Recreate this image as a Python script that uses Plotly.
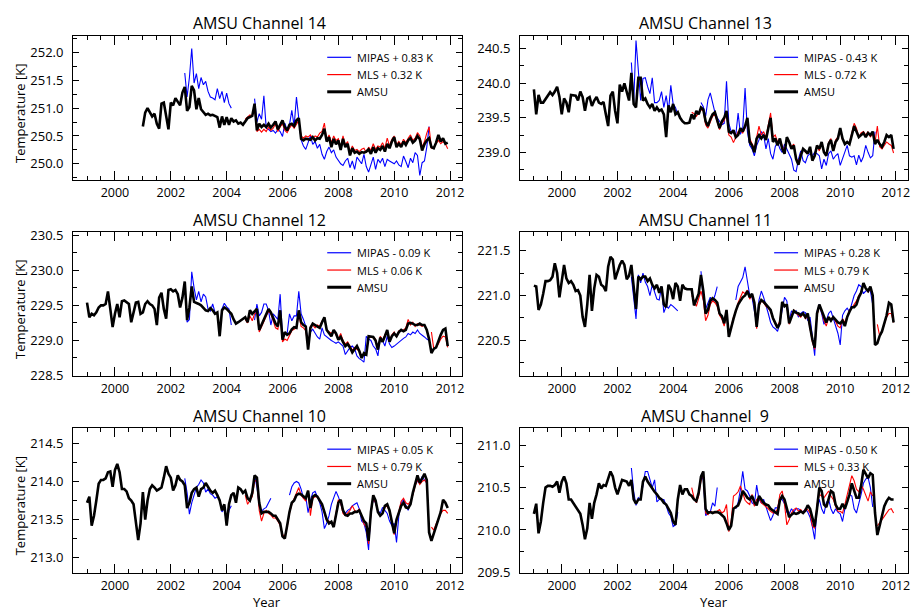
import plotly.graph_objects as go

FIG_W, FIG_H = 912, 615
FONT = "Open Sans"

# ------------------------------------------------------------------ data
x_tick_years = [2000, 2002, 2004, 2006, 2008, 2010, 2012]
x_tick_labels = ["2000", "2002", "2004", "2006", "2008", "2010", "2012"]

titles = ["AMSU Channel 14", "AMSU Channel 13", "AMSU Channel 12",
          "AMSU Channel 11", "AMSU Channel 10", "AMSU Channel  9"]
mipas_labels = ["MIPAS + 0.83 K", "MIPAS - 0.43 K", "MIPAS - 0.09 K",
                "MIPAS + 0.28 K", "MIPAS + 0.05 K", "MIPAS - 0.50 K"]
mls_labels = ["MLS + 0.32 K", "MLS - 0.72 K", "MLS + 0.06 K",
              "MLS + 0.79 K", "MLS + 0.79 K", "MLS + 0.33 K"]
amsu_label = "AMSU"
y_axis_title = "Temperature [K]"
x_axis_title = "Year"

# start (year, month) of each series
amsu_start_ch14 = (2001, 1)
amsu_start = (1999, 1)
mipas_seg1_start = (2002, 7)
mipas_seg2_start = (2005, 1)
mls_start = (2004, 9)

# ---------------- Channel 14
ch14_amsu = [
    250.67, 250.92, 251.00, 250.93, 250.85, 250.90, 250.72, 250.63, 251.08, 251.10, 250.85, 250.62,
    251.10, 251.05, 251.18, 251.12, 251.05, 251.28, 251.38, 250.95, 251.02, 251.40, 251.32, 250.98,
    251.18, 250.98, 250.92, 250.88, 250.90, 250.87, 250.88, 250.86, 250.84, 250.65, 250.85, 250.70,
    250.84, 250.70, 250.82, 250.76, 250.78, 250.72, 250.74, 250.70, 250.76, 250.82, 250.84, 250.86,
    251.08, 250.60, 250.72, 250.66, 250.70, 250.66, 250.72, 250.65, 250.70, 250.76, 250.62, 250.70,
    250.78, 250.66, 250.60, 250.70, 250.72, 250.68, 250.78, 250.82, 250.45, 250.42, 250.45, 250.44,
    250.43, 250.48, 250.42, 250.46, 250.45, 250.52, 250.63, 250.40, 250.48, 250.30, 250.45, 250.35,
    250.42, 250.25, 250.45, 250.30, 250.36, 250.15, 250.28, 250.20, 250.22, 250.18, 250.21, 250.20,
    250.22, 250.26, 250.18, 250.30, 250.20, 250.28, 250.25, 250.32, 250.22, 250.36, 250.28, 250.40,
    250.48, 250.30, 250.36, 250.30, 250.40, 250.34, 250.42, 250.46, 250.38, 250.42, 250.50, 250.44,
    250.24, 250.35, 250.42, 250.46, 250.30, 250.28, 250.38, 250.52, 250.40, 250.46, 250.36, 250.38]
ch14_mipas_1 = [
    251.63, 251.20, 251.55, 252.07, 251.45, 251.62,
    251.35, 251.55, 251.42, 251.48, 251.30, 251.20, 251.18, 251.15, 251.35, 251.17, 251.30, 251.10,
    251.27, 251.08, 251.00]
ch14_mipas_2 = [
    251.17, 250.75, 250.90, 250.80, 251.22, 250.64, 250.62, 250.58, 250.60, 250.55, 250.62, 250.58,
    250.49, 250.73, 250.60, 250.70, 250.96, 250.68, 251.20, 250.80, 250.43, 250.32, 250.26, 250.38,
    250.50, 250.35, 250.40, 250.28, 250.35, 250.17, 250.08, 250.22, 250.30, 250.20, 250.25, 250.12,
    250.05, 250.00, 249.97, 250.05, 250.10, 249.93, 250.05, 249.90, 250.12, 250.05, 250.00, 250.17,
    249.95, 249.85, 250.00, 250.12, 249.90, 250.08, 250.02, 250.10, 249.95, 250.08, 250.05, 250.02,
    250.00, 250.05, 249.98, 249.95, 250.14, 250.04, 249.93, 250.10, 250.02, 250.20, 250.15, 249.79,
    250.02, 250.05, 250.30, 250.67]
ch14_mls = [
    250.80, 250.84, 250.88, 250.86,
    251.02, 250.58, 250.62, 250.57, 250.62, 250.58, 250.66, 250.60, 250.64, 250.72, 250.58, 250.66,
    250.72, 250.60, 250.56, 250.64, 250.70, 250.64, 250.72, 250.78, 250.50, 250.46, 250.50, 250.48,
    250.52, 250.45, 250.50, 250.48, 250.55, 250.58, 250.73, 250.42, 250.52, 250.38, 250.50, 250.42,
    250.45, 250.30, 250.50, 250.34, 250.40, 250.20, 250.32, 250.24, 250.26, 250.22, 250.26, 250.28,
    250.20, 250.30, 250.24, 250.36, 250.26, 250.32, 250.30, 250.38, 250.28, 250.46, 250.32, 250.44,
    250.50, 250.34, 250.40, 250.34, 250.44, 250.38, 250.46, 250.52, 250.42, 250.46, 250.56, 250.50,
    250.30, 250.40, 250.55, 250.66, 250.28, 250.30, 250.36, 250.42, 250.36, 250.40, 250.36, 250.27]

# ---------------- Channel 13
ch13_amsu = [
    239.91, 239.55, 239.83, 239.72, 239.72, 239.77, 239.83, 239.87, 239.83, 239.88, 239.95, 239.80,
    239.55, 239.78, 239.72, 239.58, 239.83, 239.82, 239.82, 239.75, 239.88, 239.80, 239.60, 239.78,
    239.80, 239.67, 239.75, 239.80, 239.72, 239.70, 239.73, 239.55, 239.38, 239.82, 239.88, 239.60,
    239.42, 239.98, 239.88, 240.00, 239.88, 239.75, 240.15, 239.70, 239.65, 240.08, 240.08, 239.75,
    239.78, 239.70, 239.65, 239.70, 239.60, 239.65, 239.60, 239.62, 239.55, 239.22, 239.68, 239.58,
    239.70, 239.55, 239.58, 239.50, 239.45, 239.42, 239.42, 239.43, 239.55, 239.48, 239.60, 239.55,
    239.65, 239.62, 239.45, 239.38, 239.48, 239.55, 239.58, 239.48, 239.35, 239.45, 239.50, 239.60,
    239.30, 239.28, 239.32, 239.22, 239.25, 239.35, 239.30, 239.38, 239.50, 239.15, 239.10, 239.00,
    239.20, 239.25, 239.20, 239.25, 239.18, 239.35, 239.50, 239.15, 239.20, 239.10, 239.20, 239.05,
    238.98, 239.22, 239.15, 239.05, 239.10, 238.90, 238.82, 238.95, 239.05, 239.02, 238.98, 239.08,
    238.88, 238.95, 239.10, 239.05, 239.15, 239.00, 238.95, 239.12, 239.18, 239.02, 239.15, 239.20,
    239.35, 239.20, 239.12, 239.15, 239.12, 239.25, 239.38, 239.30, 239.22, 239.25, 239.28, 239.22,
    239.28, 239.25, 239.30, 239.12, 239.18, 239.12, 239.08, 239.15, 239.25, 239.22, 239.25, 239.05]
ch13_mipas_1 = [
    240.30, 239.72, 240.62, 240.20, 239.75, 240.07,
    240.08, 239.95, 239.85, 240.08, 239.72, 239.72, 239.75, 239.88, 239.65, 239.82, 239.60, 239.97,
    239.70, 239.65, 239.55]
ch13_mipas_2 = [
    239.72, 239.66, 239.52, 239.76, 239.86, 239.70, 239.58, 239.50, 239.45, 239.40, 239.42, 240.03,
    239.42, 239.30, 239.28, 239.25, 239.57, 239.26, 239.35, 239.93, 239.30, 239.10, 239.05, 238.95,
    239.10, 239.18, 239.30, 239.25, 239.05, 239.20, 238.98, 238.90, 239.08, 239.15, 239.05, 239.00,
    239.12, 239.05, 238.98, 238.90, 238.74, 238.72, 238.90, 239.02, 238.88, 238.85, 238.95, 238.98,
    238.95, 239.00, 238.98, 238.95, 238.76, 238.90, 238.81, 238.98, 239.02, 238.90, 238.95, 238.98,
    238.81, 238.90, 238.98, 239.10, 238.95, 238.93, 238.95, 238.82, 238.96, 238.86, 238.94, 239.10,
    239.00, 238.92, 238.95, 239.30]
ch13_mls = [
    239.58, 239.56, 239.52, 239.58,
    239.62, 239.60, 239.40, 239.35, 239.45, 239.52, 239.55, 239.45, 239.33, 239.42, 239.46, 239.58,
    239.25, 239.22, 239.14, 239.22, 239.30, 239.32, 239.28, 239.35, 239.45, 239.20, 239.12, 239.05,
    239.22, 239.38, 239.25, 239.30, 239.22, 239.40, 239.57, 239.22, 239.25, 239.15, 239.18, 239.10,
    239.00, 239.20, 239.15, 239.08, 239.12, 238.92, 238.85, 238.98, 239.05, 239.00, 238.98, 239.05,
    238.88, 238.96, 239.10, 239.02, 239.14, 239.00, 238.96, 239.14, 239.20, 239.02, 239.18, 239.22,
    239.32, 239.18, 239.14, 239.15, 239.14, 239.28, 239.42, 239.35, 239.22, 239.28, 239.30, 239.25,
    239.30, 239.22, 239.28, 239.14, 239.38, 239.08, 239.05, 239.10, 239.15, 239.12, 239.10, 238.99]

# ---------------- Channel 12
ch12_amsu = [
    229.54, 229.33, 229.38, 229.36, 229.40, 229.47, 229.50, 229.50, 229.52, 229.70, 229.45, 229.19,
    229.38, 229.52, 229.33, 229.56, 229.57, 229.55, 229.52, 229.26, 229.38, 229.54, 229.55, 229.38,
    229.40, 229.52, 229.56, 229.52, 229.50, 229.45, 229.22, 229.61, 229.68, 229.45, 229.31, 229.72,
    229.73, 229.70, 229.72, 229.66, 229.47, 229.61, 229.84, 229.29, 229.47, 229.77, 229.55, 229.54,
    229.52, 229.50, 229.47, 229.43, 229.42, 229.46, 229.43, 229.38, 229.40, 229.06, 229.43, 229.47,
    229.45, 229.42, 229.38, 229.30, 229.24, 229.26, 229.28, 229.30, 229.33, 229.26, 229.43, 229.38,
    229.42, 229.45, 229.15, 229.22, 229.30, 229.38, 229.45, 229.40, 229.32, 229.24, 229.20, 229.43,
    229.01, 229.12, 229.08, 229.10, 229.16, 229.19, 229.18, 229.43, 229.26, 229.22, 229.20, 228.87,
    229.18, 229.24, 229.22, 229.20, 229.18, 229.26, 229.33, 229.15, 229.10, 229.06, 229.15, 229.10,
    229.01, 229.05, 228.98, 228.92, 228.95, 228.90, 228.83, 228.88, 228.92, 228.85, 228.75, 228.82,
    228.80, 229.06, 229.06, 229.05, 229.00, 228.87, 229.04, 228.98, 229.06, 229.15, 228.98, 229.06,
    229.10, 229.06, 229.12, 229.15, 229.13, 229.15, 229.24, 229.25, 229.24, 229.22, 229.22, 229.24,
    229.22, 229.22, 229.15, 229.02, 228.82, 228.88, 228.90, 229.00, 229.08, 229.15, 229.17, 228.92]
ch12_mipas_1 = [
    229.80, 229.26, 229.30, 229.98, 229.75, 229.58,
    229.70, 229.55, 229.66, 229.62, 229.45, 229.42, 229.52, 229.40, 229.38, 229.13, 229.45, 229.53,
    229.48, 229.45, 229.22]
ch12_mipas_2 = [
    229.29, 229.52, 229.35, 229.40, 229.52, 229.52, 229.43, 229.22, 229.38, 229.34, 229.30, 229.66,
    229.05, 229.08, 229.10, 229.38, 229.28, 229.35, 229.35, 229.70, 229.38, 229.30, 229.20, 228.94,
    229.12, 229.16, 229.10, 229.05, 229.02, 229.18, 229.08, 229.05, 229.02, 229.00, 228.98, 228.96,
    228.98, 228.95, 228.92, 228.80, 228.85, 228.90, 228.92, 228.88, 228.78, 228.74, 228.72, 228.69,
    229.06, 229.02, 229.00, 228.92, 228.88, 228.78, 229.04, 229.00, 228.92, 229.06, 228.95, 228.90,
    228.92, 228.95, 228.97, 229.00, 229.03, 229.05, 229.10, 229.08, 229.12, 229.10, 229.15, 229.10,
    229.08, 229.05, 229.02, 229.00]
ch12_mls = [
    229.30, 229.25, 229.35, 229.28,
    229.38, 229.40, 229.12, 229.20, 229.28, 229.36, 229.42, 229.38, 229.28, 229.18, 229.16, 229.38,
    228.98, 229.02, 229.00, 229.08, 229.14, 229.16, 229.18, 229.38, 229.20, 229.18, 229.14, 228.90,
    229.20, 229.22, 229.18, 229.22, 229.20, 229.28, 229.30, 229.15, 229.12, 229.10, 229.14, 229.08,
    229.02, 229.10, 229.00, 228.95, 228.98, 228.92, 228.86, 228.90, 228.88, 228.85, 228.78, 228.80,
    228.82, 229.05, 229.05, 229.04, 229.02, 228.88, 229.06, 229.00, 229.08, 229.14, 229.00, 229.08,
    229.12, 229.05, 229.14, 229.14, 229.15, 229.18, 229.30, 229.22, 229.26, 229.20, 229.24, 229.22,
    229.20, 229.22, 229.15, None, 229.12, 228.88, 228.90, 228.95, 229.02, 229.06, 229.05, 228.90]

# ---------------- Channel 11
ch11_amsu = [
    221.11, 221.10, 220.84, 220.90, 221.02, 221.16, 221.16, 221.17, 221.21, 221.36, 221.25, 220.98,
    221.16, 221.34, 221.19, 221.14, 221.16, 221.12, 221.05, 221.06, 221.00, 220.76, 220.65, 220.90,
    221.23, 220.83, 221.08, 221.23, 221.21, 221.12, 221.10, 221.05, 221.32, 221.43, 221.40, 221.18,
    221.26, 221.34, 221.39, 221.34, 221.18, 221.22, 221.34, 221.12, 220.85, 221.21, 221.18, 221.21,
    221.21, 221.16, 221.19, 221.12, 221.08, 221.12, 221.03, 221.10, 220.90, 220.87, 221.12, 221.07,
    220.96, 221.14, 221.10, 220.94, 221.12, 221.08, 221.07, 221.07, 221.07, 220.89, 220.95, 221.02,
    221.23, 221.05, 220.80, 220.84, 220.94, 220.97, 220.95, 220.92, 220.80, 220.77, 220.69, 220.84,
    220.54, 220.65, 220.74, 220.83, 220.90, 220.94, 220.98, 221.00, 221.05, 220.98, 221.02, 220.92,
    220.65, 220.90, 220.95, 220.93, 220.90, 220.87, 220.84, 220.75, 220.69, 220.64, 220.69, 220.93,
    220.88, 220.90, 220.69, 220.76, 220.83, 220.81, 220.80, 220.78, 220.80, 220.76, 220.80, 220.65,
    220.51, 220.42, 220.80, 220.90, 220.84, 220.76, 220.70, 220.76, 220.72, 220.76, 220.73, 220.70,
    220.69, 220.72, 220.66, 220.76, 220.82, 220.87, 220.87, 220.90, 220.98, 221.03, 221.14, 221.08,
    221.05, 221.10, 221.00, 220.45, 220.47, 220.55, 220.60, 220.68, 220.78, 220.92, 220.90, 220.70]
ch11_mipas_1 = [
    221.21, 220.95, 220.74, 221.23, 221.14, 221.25,
    221.15, 221.10, 221.00, 221.12, 221.05, 220.96, 220.95, 221.10, 220.81, 220.88, 220.86, 220.90,
    220.88, 220.85, 220.83]
ch11_mipas_2 = [
    221.27, 220.95, 220.85, 220.92, 220.98, 220.93, 221.00, 221.10, None, None, None, None,
    None, None, None, 220.95, 221.10, 221.15, 221.20, 221.32, 221.15, 221.00, 220.98, 220.85,
    220.68, 220.95, 221.05, 220.98, 220.90, 220.80, 220.70, 220.65, 220.63, 220.60, 220.70, 220.85,
    220.98, 220.94, 220.72, 220.83, 220.80, 220.83, 220.76, 220.80, 220.82, 220.81, 220.72, 220.76,
    220.52, 220.33, 220.82, 220.90, 220.80, 220.68, 220.72, 220.80, 220.83, 220.75, 220.68, 220.58,
    220.45, 220.78, 220.83, 220.86, 220.82, 220.92, 221.00, 221.05, 221.12, 221.10, 221.02, 221.05,
    221.06, 221.05, 220.90]
ch11_mls = [
    221.00, 220.95, 220.88, 220.98,
    221.05, 220.95, 220.72, 220.78, 220.90, 220.94, 220.92, 220.88, 220.78, 220.74, 220.66, 220.80,
    220.55, 220.65, 220.76, 220.82, 220.92, 220.98, 221.04, 221.02, 221.06, 220.96, 221.00, 220.90,
    220.63, 220.88, 220.94, 220.92, 220.88, 220.86, 220.82, 220.74, 220.68, 220.66, 220.72, 220.90,
    220.90, 220.88, 220.68, 220.78, 220.84, 220.80, 220.78, 220.76, 220.80, 220.74, 220.78, 220.62,
    220.48, 220.40, 220.78, 220.88, 220.82, 220.72, 220.66, 220.76, 220.74, 220.76, 220.70, 220.66,
    220.64, 220.74, 220.70, 220.78, 220.84, 220.86, 220.90, 220.94, 221.00, 221.04, 221.12, 221.08,
    221.04, 221.08, 221.00, None, 220.68, 220.55, 220.60, 220.68, 220.76, 220.80, 220.80, 220.70]

# ---------------- Channel 10
ch10_amsu = [
    213.72, 213.80, 213.42, 213.55, 213.75, 213.97, 214.02, 214.02, 214.04, 214.12, 214.13, 213.93,
    214.15, 214.23, 214.12, 213.90, 213.90, 213.87, 213.78, 213.75, 213.70, 213.45, 213.23, 213.45,
    213.86, 213.50, 213.75, 213.90, 213.95, 213.92, 213.88, 213.90, 213.92, 214.05, 214.20, 214.10,
    214.05, 213.88, 213.95, 214.08, 214.02, 214.00, 213.95, 213.65, 213.72, 213.85, 213.90, 213.92,
    213.80, 213.90, 213.92, 213.98, 213.92, 213.88, 213.85, 213.88, 213.82, 213.75, 213.62, 213.70,
    213.42, 213.70, 213.82, 213.85, 213.72, 213.92, 213.90, 213.85, 213.88, 213.78, 213.75, 213.85,
    214.08, 214.05, 213.72, 213.58, 213.60, 213.60, 213.60, 213.58, 213.55, 213.55, 213.50, 213.45,
    213.28, 213.25, 213.42, 213.60, 213.72, 213.75, 213.82, 213.84, 213.83, 213.80, 213.78, 213.88,
    213.65, 213.80, 213.82, 213.80, 213.75, 213.70, 213.60, 213.50, 213.45, 213.47, 213.40, 213.55,
    213.72, 213.76, 213.62, 213.56, 213.55, 213.58, 213.58, 213.60, 213.60, 213.62, 213.55, 213.48,
    213.45, 213.22, 213.60, 213.82, 213.75, 213.60, 213.55, 213.58, 213.68, 213.70, 213.62, 213.48,
    213.32, 213.50, 213.60, 213.68, 213.72, 213.66, 213.65, 213.70, 213.85, 213.95, 214.08, 213.98,
    214.05, 214.10, 214.02, 213.33, 213.22, 213.32, 213.40, 213.50, 213.60, 213.76, 213.72, 213.65]
ch10_mipas_1 = [
    214.04, 213.85, 213.57, 213.72, 213.82, 213.92,
    213.96, 214.02, 213.98, 213.86, 213.90, 213.84, 213.82, 213.78, 213.80, 213.76, 213.60, 213.65,
    213.44, 213.62, 213.68]
ch10_mipas_2 = [
    214.08, 213.93, 213.68, 213.61, 213.64, 213.66, 213.72, 213.78, None, None, None, None,
    None, None, None, 213.82, 213.93, 213.98, 214.00, 213.98, 213.90, 213.78, 213.80, 213.59,
    213.75, 213.85, 213.87, 213.80, 213.72, 213.60, 213.38, 213.45, 213.55, 213.70, 213.78, 213.87,
    213.80, 213.70, 213.62, 213.58, 213.62, 213.64, 213.68, 213.70, 213.72, 213.64, 213.48, 213.45,
    213.33, 213.10, 213.62, 213.76, 213.72, 213.62, 213.58, 213.66, 213.62, 213.58, 213.48, 213.42,
    213.45, 213.20, 213.55, 213.72, 213.76, 213.70, 213.62, 213.72, 213.86, 213.96, 214.00, 214.00,
    214.06, 214.02, 213.98]
ch10_mls = [
    213.82, 213.70, 213.75, 213.80,
    214.00, 214.02, 213.62, 213.48, 213.58, 213.62, 213.58, 213.56, 213.52, 213.52, 213.48, 213.42,
    213.30, 213.28, 213.40, 213.58, 213.70, 213.78, 213.86, 213.92, 213.82, 213.78, 213.74, 213.88,
    213.55, 213.78, 213.80, 213.80, 213.74, 213.68, 213.58, 213.48, 213.48, 213.46, 213.42, 213.58,
    213.76, 213.72, 213.58, 213.55, 213.58, 213.62, 213.68, 213.62, 213.60, 213.64, 213.54, 213.44,
    213.40, 213.18, 213.58, 213.78, 213.72, 213.60, 213.56, 213.58, 213.66, 213.68, 213.60, 213.46,
    213.30, 213.48, 213.62, 213.74, 213.78, 213.72, 213.70, 213.74, 213.82, 213.94, 214.02, 213.96,
    214.00, 214.02, 213.98, None, 213.40, 213.36, 213.44, 213.52, 213.58, 213.62, 213.62, 213.58]

# ---------------- Channel 9
ch9_amsu = [
    210.19, 210.31, 209.96, 210.10, 210.32, 210.50, 210.52, 210.52, 210.51, 210.53, 210.57, 210.44,
    210.57, 210.63, 210.55, 210.36, 210.36, 210.32, 210.28, 210.23, 210.19, 210.06, 209.89, 210.02,
    210.32, 210.13, 210.32, 210.42, 210.55, 210.49, 210.53, 210.52, 210.60, 210.69, 210.63, 210.50,
    210.42, 210.50, 210.59, 210.58, 210.57, 210.52, 210.59, 210.36, 210.31, 210.36, 210.36, 210.57,
    210.63, 210.57, 210.53, 210.48, 210.45, 210.42, 210.38, 210.36, 210.32, 210.30, 210.25, 210.20,
    210.10, 210.06, 210.36, 210.53, 210.42, 210.48, 210.48, 210.42, 210.40, 210.36, 210.34, 210.44,
    210.63, 210.69, 210.25, 210.20, 210.21, 210.20, 210.21, 210.21, 210.20, 210.17, 210.15, 210.08,
    210.00, 210.05, 210.25, 210.27, 210.29, 210.36, 210.46, 210.42, 210.38, 210.36, 210.40, 210.33,
    210.29, 210.40, 210.36, 210.32, 210.30, 210.29, 210.25, 210.23, 210.20, 210.19, 210.35, 210.40,
    210.36, 210.25, 210.15, 210.18, 210.20, 210.19, 210.20, 210.22, 210.20, 210.23, 210.29, 210.25,
    210.13, 210.04, 210.25, 210.50, 210.46, 210.30, 210.27, 210.36, 210.46, 210.44, 210.30, 210.25,
    210.25, 210.31, 210.25, 210.33, 210.42, 210.55, 210.45, 210.38, 210.38, 210.52, 210.71, 210.66,
    210.61, 210.67, 210.65, 210.20, 209.94, 210.05, 210.18, 210.28, 210.34, 210.38, 210.36, 210.36]
ch9_mipas_1 = [
    210.73, 210.45, 210.29, 210.38, 210.36, 210.51,
    210.69, 210.69, 210.59, 210.50, 210.59, 210.33, 210.36, 210.36, 210.36, 210.29, 210.20, 210.16,
    210.04, 210.06, 210.21]
ch9_mipas_2 = [
    210.65, 210.59, 210.17, 210.19, 210.21, 210.32, 210.28, 210.50, None, None, None, None,
    None, None, None, 210.25, 210.32, 210.48, 210.69, 210.48, 210.46, 210.40, 210.32, 210.30,
    210.53, 210.36, 210.32, 210.36, 210.26, 210.19, 210.11, 210.17, 210.26, 210.26, 210.36, 210.36,
    210.31, 210.21, 210.19, 210.25, 210.21, 210.25, 210.25, 210.23, 210.21, 210.25, 210.21, 210.15,
    210.04, 209.89, 210.25, 210.36, 210.25, 210.19, 210.32, 210.36, 210.25, 210.19, 210.25, 210.21,
    210.19, 210.10, 210.25, 210.32, 210.42, 210.40, 210.25, 210.20, 210.30, 210.42, 210.55, 210.60,
    210.62, 210.50, 210.27]
ch9_mls = [
    210.50, 210.38, 210.32, 210.40,
    210.58, 210.66, 210.20, 210.18, 210.22, 210.21, 210.20, 210.22, 210.24, 210.20, 210.22, 210.30,
    209.98, 210.10, 210.40, 210.42, 210.45, 210.52, 210.42, 210.35, 210.32, 210.30, 210.42, 210.28,
    210.36, 210.38, 210.32, 210.30, 210.28, 210.25, 210.22, 210.20, 210.20, 210.25, 210.42, 210.46,
    210.30, 210.06, 210.12, 210.20, 210.24, 210.26, 210.22, 210.24, 210.20, 210.25, 210.24, 210.20,
    210.05, 210.02, 210.30, 210.42, 210.40, 210.38, 210.42, 210.46, 210.40, 210.36, 210.28, 210.22,
    210.22, 210.20, 210.30, 210.42, 210.52, 210.64, 210.58, 210.48, 210.45, 210.53, 210.48, 210.40,
    210.34, 210.45, 210.40, None, 210.05, 210.08, 210.12, 210.16, 210.20, 210.24, 210.25, 210.20]

# ------------------------------------------------------------------ layout
X_RANGE = [1998.5, 2012.42]
COLS = [(73.3, 463.3), (521.7, 910.6)]
ROWS = [(31.0, 178.0), (231.0, 379.0), (432.0, 580.0)]
TITLE_CX = [260.5, 707.5]
TITLE_Y = [17.5, 218.5, 419.5]

panels = [
    dict(amsu=ch14_amsu, amsu_start=amsu_start_ch14, mip1=ch14_mipas_1, mip2=ch14_mipas_2, mls=ch14_mls, yr=[249.71, 252.29]),
    dict(amsu=ch13_amsu, amsu_start=amsu_start, mip1=ch13_mipas_1, mip2=ch13_mipas_2, mls=ch13_mls, yr=[238.60, 240.68]),
    dict(amsu=ch12_amsu, amsu_start=amsu_start, mip1=ch12_mipas_1, mip2=ch12_mipas_2, mls=ch12_mls, yr=[228.488, 230.55]),
    dict(amsu=ch11_amsu, amsu_start=amsu_start, mip1=ch11_mipas_1, mip2=ch11_mipas_2, mls=ch11_mls, yr=[220.10, 221.71]),
    dict(amsu=ch10_amsu, amsu_start=amsu_start, mip1=ch10_mipas_1, mip2=ch10_mipas_2, mls=ch10_mls, yr=[212.80, 214.70]),
    dict(amsu=ch9_amsu, amsu_start=amsu_start, mip1=ch9_mipas_1, mip2=ch9_mipas_2, mls=ch9_mls, yr=[209.495, 211.20]),
]


def month_axis(start, n):
    y0, m0 = start
    return [y0 + (m0 - 1 + i) / 12.0 for i in range(n)]


def fx(px):
    return px / FIG_W


def fy(py):
    return 1.0 - py / FIG_H


fig = go.Figure()
annotations = []
shapes = []
layout_axes = {}

BLUE, RED, BLACK = "#0000FF", "#FF0000", "#000000"

for i, p in enumerate(panels):
    r, c = divmod(i, 2)
    n = i + 1
    xs = "x" if n == 1 else f"x{n}"
    ys = "y" if n == 1 else f"y{n}"
    x0, x1 = COLS[c]
    top, bot = ROWS[r]

    mx = month_axis(mipas_seg1_start, len(p["mip1"])) + [None] + month_axis(mipas_seg2_start, len(p["mip2"]))
    my = p["mip1"] + [None] + p["mip2"]
    fig.add_trace(go.Scatter(x=mx, y=my, mode="lines", line=dict(color=BLUE, width=1.1),
                             xaxis=xs, yaxis=ys, showlegend=False, name=mipas_labels[i]))
    fig.add_trace(go.Scatter(x=month_axis(mls_start, len(p["mls"])), y=p["mls"], mode="lines",
                             line=dict(color=RED, width=1.1), xaxis=xs, yaxis=ys,
                             showlegend=False, name=mls_labels[i]))
    fig.add_trace(go.Scatter(x=month_axis(p["amsu_start"], len(p["amsu"])), y=p["amsu"], mode="lines",
                             line=dict(color=BLACK, width=2.6), xaxis=xs, yaxis=ys,
                             showlegend=False, name=amsu_label))

    xkey = "xaxis" if n == 1 else f"xaxis{n}"
    ykey = "yaxis" if n == 1 else f"yaxis{n}"
    layout_axes[xkey] = dict(
        domain=[fx(x0), fx(x1)], range=X_RANGE, anchor=ys,
        tickmode="array", tickvals=x_tick_years, ticktext=x_tick_labels,
        ticks="inside", ticklen=9, tickwidth=1, tickcolor="black",
        minor=dict(tickmode="linear", tick0=1999.0, dtick=0.5, ticks="inside",
                   ticklen=4, tickwidth=1, tickcolor="black", showgrid=False),
        showline=True, linecolor="black", linewidth=1, mirror="allticks",
        showgrid=False, zeroline=False, ticklabelstandoff=1,
        tickfont=dict(family=FONT, size=12.5, color="black"))
    layout_axes[ykey] = dict(
        domain=[fy(bot), fy(top)], range=p["yr"], anchor=xs,
        tickmode="linear", tick0=0, dtick=0.5, tickformat=".1f",
        ticks="inside", ticklen=6, tickwidth=1, tickcolor="black",
        minor=dict(tickmode="linear", tick0=0, dtick=0.25, ticks="inside",
                   ticklen=4, tickwidth=1, tickcolor="black", showgrid=False),
        showline=True, linecolor="black", linewidth=1, mirror="allticks",
        showgrid=False, zeroline=False, ticklabelstandoff=6,
        tickfont=dict(family=FONT, size=13, color="black"))

    # panel title
    annotations.append(dict(text=titles[i].replace("  ", " \u00a0"), xref="paper", yref="paper",
                            x=fx(TITLE_CX[c]), y=fy(TITLE_Y[r]), xanchor="center", yanchor="middle",
                            showarrow=False, font=dict(family=FONT, size=16, color="black")))
    # legend (drawn by hand to match the original's short line samples)
    leg_rows = [top + 21.5, top + 39.2, top + 56.8]
    leg_items = [(mipas_labels[i], BLUE, 1.2), (mls_labels[i], RED, 1.2), (amsu_label, BLACK, 3.0)]
    for (lab, col, w), ly in zip(leg_items, leg_rows):
        shapes.append(dict(type="line", xref="paper", yref="paper",
                           x0=fx(x0 + 255), x1=fx(x0 + 279), y0=fy(ly), y1=fy(ly),
                           line=dict(color=col, width=w)))
        annotations.append(dict(text=lab, xref="paper", yref="paper",
                                x=fx(x0 + 283), y=fy(ly), xanchor="left", yanchor="middle",
                                showarrow=False, font=dict(family=FONT, size=11, color="black")))
    if c == 0:
        annotations.append(dict(text=y_axis_title, xref="paper", yref="paper", textangle=-90,
                                x=fx(20), y=fy((top + bot) / 2 + 5), xanchor="center", yanchor="middle",
                                showarrow=False, font=dict(family=FONT, size=13, color="black")))
    if r == 2:
        annotations.append(dict(text=x_axis_title, xref="paper", yref="paper",
                                x=fx((x0 + x1) / 2), y=0.0, xanchor="center", yanchor="bottom",
                                yshift=-4, borderpad=0, borderwidth=0,
                                showarrow=False, font=dict(family=FONT, size=13, color="black")))

fig.update_layout(
    width=FIG_W, height=FIG_H, autosize=False,
    margin=dict(l=0, r=0, t=0, b=0),
    paper_bgcolor="white", plot_bgcolor="white",
    font=dict(family=FONT, color="black"),
    showlegend=False,
    annotations=annotations, shapes=shapes,
    **layout_axes)

fig.write_html("out.html")
